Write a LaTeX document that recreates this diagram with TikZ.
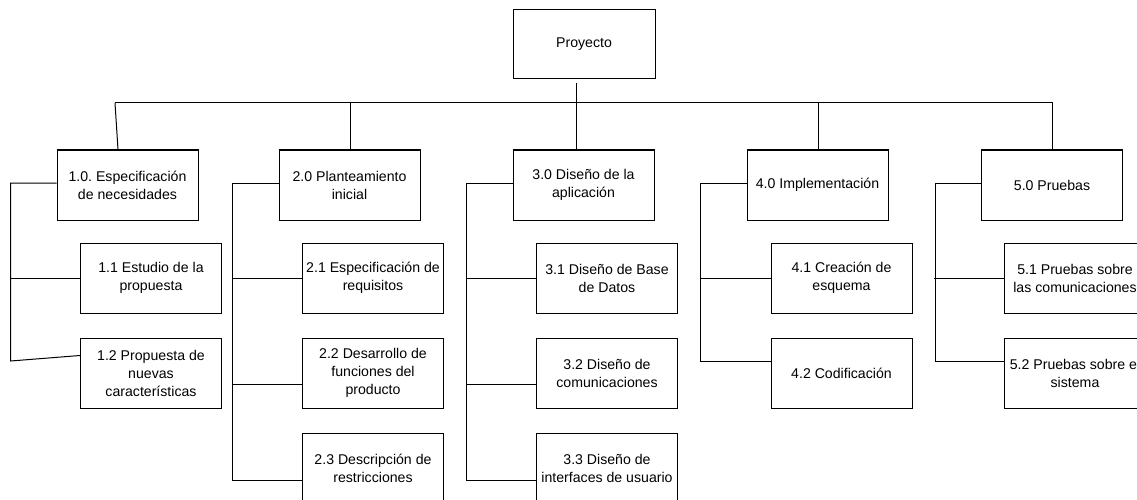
\documentclass[tikz,border=0pt]{standalone}
\usepackage{fontspec}
\setmainfont{Liberation Sans}
\usetikzlibrary{positioning}
\frenchspacing

\begin{document}
\begin{tikzpicture}[x=0.75pt,y=-0.75pt,
  task/.style={draw, line width=0.75pt, minimum width=105.75pt, minimum height=52.5pt,
    align=center, inner sep=1pt, font=\fontsize{10.6}{13.5}\selectfont},
  link/.style={line width=0.75pt},
  node distance=18pt]
  \useasboundingbox (0,0) rectangle (1137,499);
  \clip (0,0) rectangle (1137,499);

  % root
  \node [task, minimum width=106.5pt, minimum height=51.75pt] (root) at (584,44.5) {Proyecto};

  % first level
  \node [task] (n10) at (127.5,185) {1.0. Especificación\\de necesidades};
  \node [task] (n20) at (349.5,185) {2.0 Planteamiento\\inicial};
  \node [task] (n30) at (583.5,185) {3.0 Diseño de la\\aplicación};
  \node [task] (n40) at (817.5,185) {4.0 Implementación};
  \node [task] (n50) at (1052,185) {5.0 Pruebas};

  % second level
  \node [task] (n11) at (151,278) {1.1 Estudio de la\\propuesta};
  \node [task, below=of n11] (n12) {1.2 Propuesta de\\nuevas\\características};

  \node [task] (n21) at (373,278) {2.1 Especificación de\\requisitos};
  \node [task, below=of n21] (n22) {2.2 Desarrollo de\\funciones del\\producto};
  \node [task, below=of n22] (n23) {2.3 Descripción de\\restricciones};

  \node [task] (n31) at (607,278) {3.1 Diseño de Base\\de Datos};
  \node [task, below=of n31] (n32) {3.2 Diseño de\\comunicaciones};
  \node [task, below=of n32] (n33) {3.3 Diseño de\\interfaces de usuario};

  \node [task] (n41) at (841.5,278) {4.1 Creación de\\esquema};
  \node [task, below=of n41] (n42) {4.2 Codificación};

  \node [task] (n51) at (1075,278) {5.1 Pruebas sobre\\las comunicaciones};
  \node [task, below=of n51] (n52) {5.2 Pruebas sobre el\\sistema};

  % bus below the root
  \coordinate (busl) at (115,103);
  \coordinate (busr) at (1052,103);
  \draw [link] ([shift={(-8,4)}]root.south) -- ++(0,20);
  \draw [link] (busl) -- (busr);
  \draw [link] (busl) -- ([shift={(-9.5,0)}]n10.north);
  \foreach \n/\dx in {n20/0.5, n30/-7.5, n40/0.5, n50/0}
    \draw [link] ([shift={(\dx,0)}]\n.north) -- ++(0,-47);

  % rails to the sub tasks
  \draw [link] ([shift={(0,-2)}]n10.west) -- ++(-46,0) -- ++(0,178) -- ([shift={(0,-17.5)}]n12.west);
  \draw [link] (n11.west) -- ++(-70,0);

  \foreach \g in {2,3} {
    \draw [link] ([shift={(0,-2)}]n\g0.west) -- ++(-46,0) |- ([shift={(0,12)}]n\g3.west);
    \draw [link] (n\g1.west) -- ++(-70,0);
    \draw [link] ([shift={(0,11.5)}]n\g2.west) -- ++(-70,0);
  }

  \foreach \g in {4,5} {
    \draw [link] ([shift={(0,-2)}]n\g0.west) -- ++(-46,0) |- ([shift={(0,-11.5)}]n\g2.west);
    \draw [link] (n\g1.west) -- ++(-70,0);
  }

\end{tikzpicture}
\end{document}
